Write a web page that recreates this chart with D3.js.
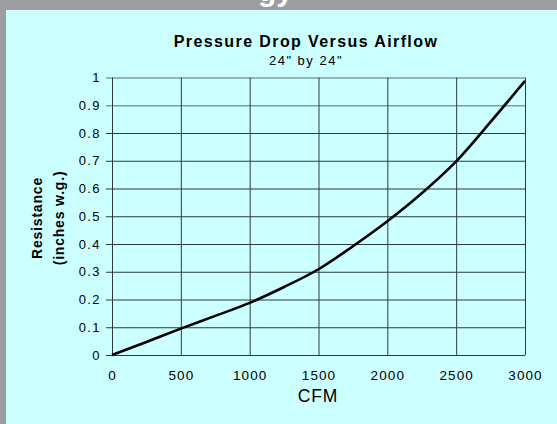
<!DOCTYPE html>
<html>
<head>
<meta charset="utf-8">
<script src="https://cdn.jsdelivr.net/npm/d3@7"></script>
<style>
  body { margin: 0; background: #9d9da1; }
  svg { display: block; font-family: "Liberation Sans", Arial, sans-serif; }
</style>
</head>
<body>
<svg class="displayContext" width="557" height="424"></svg>
<script>

var cfm        = [0, 250, 500, 750, 1000, 1250, 1500, 1750, 2000, 2250, 2500, 2750, 3000];
var resistance = [0, 0.047, 0.095, 0.141, 0.188, 0.245, 0.309, 0.392, 0.482, 0.583, 0.698, 0.840, 0.988];

var xTicks = [0, 500, 1000, 1500, 2000, 2500, 3000];
var yTicks = [0, 0.1, 0.2, 0.3, 0.4, 0.5, 0.6, 0.7, 0.8, 0.9, 1];

var title    = "Pressure Drop Versus Airflow";
var subtitle = "24\" by 24\"";

function drawChart(){

  var svg = d3.select(".displayContext");

  var left = 112, right = 525, top = 77.5, bottom = 355;

  // grey page with the cyan panel
  svg.append("rect")
    .attr("width", 557).attr("height", 424)
    .attr("fill", "#9d9da1");

  // bottom of a cut off heading
  svg.append("text")
    .attr("x", 258).attr("y", 1)
    .attr("fill", "#ffffff")
    .attr("font-size", 30)
    .attr("font-weight", "bold")
    .text("gy");

  svg.append("rect")
    .attr("x", 6).attr("y", 10)
    .attr("width", 551).attr("height", 414)
    .attr("fill", "#ccffff");

  var scaleX = d3.scaleLinear()
                 .domain([0, 3000])
                 .range([left, right]);

  var scaleY = d3.scaleLinear()
                 .domain([0, 1])
                 .range([bottom, top]);

  var y_axis = d3.axisLeft(scaleY)
                 .tickValues(yTicks)
                 .tickFormat(d3.format("~g"))
                 .tickSize(right - left + 6)
                 .tickPadding(5);

  var x_axis = d3.axisBottom(scaleX)
                 .tickValues(xTicks)
                 .tickFormat(d3.format("d"))
                 .tickSize(-(bottom - top))
                 .tickPadding(15);

  var gy = svg.append("g")
    .attr("transform", "translate(" + right + ",0)")
    .call(y_axis);

  gy.select(".domain").remove();
  gy.selectAll(".tick line")
    .attr("stroke", function(d){ return d >= 0.9 ? "#7f9d9d" : "#2e3a3a"; })
    .attr("stroke-width", function(d){ return d >= 0.9 ? 1.4 : 1; });
  gy.selectAll(".tick text")
    .attr("fill", "#000")
    .attr("font-size", 13)
    .attr("letter-spacing", "1.4px")
    .attr("font-family", "Liberation Sans, Arial, sans-serif");

  var gx = svg.append("g")
    .attr("transform", "translate(0," + bottom + ")")
    .call(x_axis);

  gx.select(".domain").remove();
  gx.selectAll(".tick line")
    .attr("stroke", "#2e3a3a");
  gx.selectAll(".tick text")
    .attr("fill", "#000")
    .attr("font-size", 13.5)
    .attr("letter-spacing", "1.1px")
    .attr("font-family", "Liberation Sans, Arial, sans-serif");

  // the pressure drop curve
  var lineFunction = d3.line()
    .x(function(d, i){ return scaleX(cfm[i]); })
    .y(function(d){ return scaleY(d); })
    .curve(d3.curveMonotoneX);

  svg.append("path")
    .attr("d", lineFunction(resistance))
    .attr("stroke", "#000")
    .attr("stroke-width", 2.6)
    .attr("fill", "none");

  // titles
  svg.append("text")
    .attr("x", 306).attr("y", 47)
    .attr("text-anchor", "middle")
    .attr("font-size", 16)
    .attr("font-weight", "bold")
    .attr("letter-spacing", "1.4px")
    .text(title);

  svg.append("text")
    .attr("x", 306).attr("y", 65)
    .attr("text-anchor", "middle")
    .attr("font-size", 13)
    .attr("letter-spacing", "1.5px")
    .text(subtitle);

  svg.append("text")
    .attr("x", 318).attr("y", 402)
    .attr("text-anchor", "middle")
    .attr("font-size", 17.5)
    .attr("letter-spacing", "0.8px")
    .text("CFM");

  svg.append("text")
    .attr("transform", "translate(41.5,218) rotate(-90)")
    .attr("text-anchor", "middle")
    .attr("font-size", 14)
    .attr("font-weight", "bold")
    .attr("letter-spacing", "0.8px")
    .text("Resistance");

  svg.append("text")
    .attr("transform", "translate(64,218) rotate(-90)")
    .attr("text-anchor", "middle")
    .attr("font-size", 14)
    .attr("font-weight", "bold")
    .attr("letter-spacing", "0.8px")
    .text("(inches w.g.)");
}

drawChart();
</script>
</body>
</html>
